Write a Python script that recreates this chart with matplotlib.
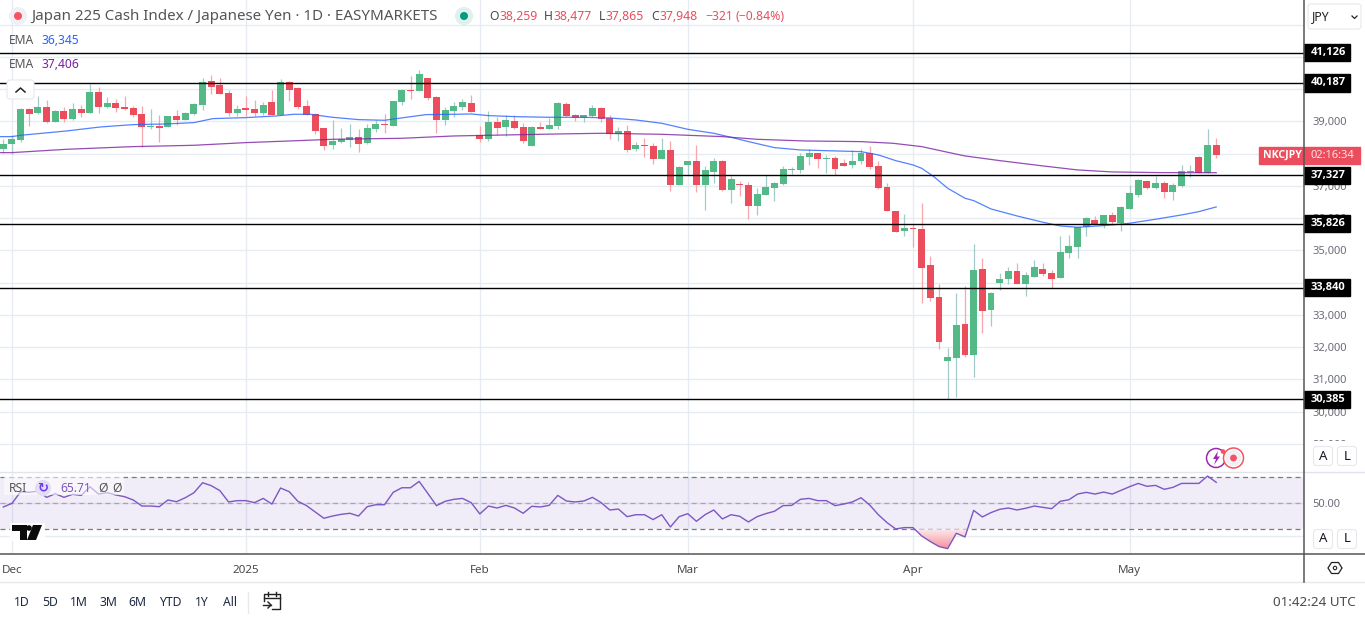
import numpy as np
import matplotlib
matplotlib.use('Agg')
import matplotlib.pyplot as plt
from matplotlib.patches import Rectangle, Circle, FancyBboxPatch, Polygon

plt.rcParams['font.family'] = ['Noto Sans', 'DejaVu Sans']

opens = [38143,38298,38421,39382,39258,39444,38979,39320,39072,39382,39258,39909,39444,39568,39444,39413,39227,38824,38855,38824,
         39165,39041,39227,39506,40250,40126,39878,39258,39413,39382,39258,39599,39196,40219,40033,39475,39227,38793,38267,38360,
         38421,38514,38329,38762,38917,38855,39599,39971,39940,40343,39754,39041,39320,39444,39568,38576,38453,38979,38824,39010,
         38824,38236,38824,38762,38855,39537,39196,39103,39165,39413,39103,38607,38700,38143,38267,38236,37833,38112,37027,37647,
         37771,37027,37430,37771,36872,37058,37027,36376,36717,36934,37058,37492,37492,37895,38019,37833,37864,37709,37647,37771,
         38019,37616,36965,36221,35601,35684,35663,34548,33556,31572,31666,32719,31759,34424,33153,33990,34114,34362,33959,34176,
         34424,34300,34145,34920,35106,35725,35942,35818,36097,35849,36283,36717,37151,36934,37089,36810,36996,37430,37895,37389,
         38259]
highs = [38442,38576,39403,39403,39785,39661,39351,39434,39558,39496,40157,40054,39744,39692,39785,39475,39475,39382,39196,39165,
         39351,39289,39558,40333,40436,40343,39971,39506,39785,39661,39599,39971,40312,40250,40054,39661,39248,38793,39041,38793,
         38917,38762,38917,39041,39227,39630,39992,40405,40591,40343,39785,39454,39599,39692,39816,38855,39320,39134,39196,39196,
         38948,38855,38979,39103,39599,39599,39227,39196,39506,39444,39196,38824,38886,38360,38484,38329,38484,38391,37616,37771,
         38267,37616,37864,37802,37306,37151,37120,36934,37337,37120,37616,37585,38019,38143,38019,37957,37926,37833,38112,38143,
         38236,37760,37089,36221,36128,35818,36469,34827,33959,31976,33680,33897,35199,34765,33711,34300,34486,34610,34331,34703,
         34610,34393,35446,35477,35725,36035,36066,36097,36190,36376,37027,37213,37151,37306,37151,37089,37647,37647,37926,38762,
         38477]
lows = [38008,37977,38370,38855,39227,38959,38979,38979,39041,39145,39258,39258,39413,39289,39351,39145,38205,38762,38360,38824,
        38886,39041,39196,39351,39847,39847,39165,39165,39165,39165,39196,39196,39196,39630,39382,39196,38607,38112,38143,38339,
        38205,38050,38298,38669,38638,38855,39506,39692,39940,39661,38638,38886,39145,39351,39289,38360,38391,38576,38545,38762,
        38329,38236,38762,38762,38762,39165,39010,38979,39134,38979,38453,38391,38050,38081,37895,37678,37833,36841,37027,37337,
        36810,36252,37089,36841,36469,36686,35973,36097,36717,36531,37027,37368,37399,37647,37554,37399,37337,37616,37554,37678,
        37523,36903,36232,35570,35446,35106,33370,33432,31945,30385,30457,31696,31077,32441,32657,33773,33959,33959,33587,34176,
        34207,33835,34145,34765,34765,35446,35818,35694,35787,35601,36283,36655,36903,36903,36624,36562,36965,37275,37389,37389,
        37865]
closes = [38298,38442,39382,39227,39444,38979,39320,39072,39382,39258,39909,39444,39568,39413,39382,39196,38824,38855,38793,39165,
          39041,39258,39537,40219,40064,39847,39258,39382,39351,39258,39506,39196,40219,39971,39444,39196,38700,38236,38391,38442,
          38514,38298,38793,38917,38897,39630,39971,39950,40467,39723,39041,39351,39475,39599,39289,38453,38979,38793,39041,38793,
          38391,38824,38762,38886,39568,39165,39103,39196,39413,39072,38607,38700,38112,38267,38236,37833,38112,37027,37585,37771,
          37027,37492,37771,36872,37213,37027,36376,36748,36965,37089,37523,37523,37926,38019,37833,37864,37523,37616,37771,38019,
          37585,36934,36232,35570,35694,35663,34455,33525,32161,31696,32688,31759,34393,33122,33680,34114,34362,33959,34238,34486,
          34269,34114,34950,35137,35725,36004,35818,36097,35880,36345,36779,37182,36934,37089,36810,37027,37461,37461,37389,38267,
          37948]

ema_fast_bars = [-1,1,2,7.3,11.2,15,18.8,22,24.2,28,31.5,33.5,35.4,38,41,44,46.5,48.8,52,54,56,59,63,67,70,73,76,79,82,84,86,89,92,96,99,
                 101,103,105,106,107.4,109,111,112,114,117,120,122,124,127,130,133,136,138,140]
ema_fast = [38525,38525,38566,38700,38824,38897,38917,38959,39083,39114,39165,39217,39217,39124,39052,39031,39124,39207,39217,39227,39176,
            39145,39124,39124,39103,39041,38938,38752,38628,38504,38370,38184,38112,38081,38060,37957,37781,37647,37543,37285,36924,36614,
            36541,36283,36066,35870,35756,35715,35766,35839,35963,36097,36200,36345]
ema_slow_bars = [-1,1,7.3,15,22,28,34,38,46,52,56,64,69,76,83,87,92.5,99,102.7,106,109,111,115,120,124,128,133.5,140]
ema_slow = [38029,38029,38132,38215,38256,38339,38400,38442,38473,38545,38566,38607,38628,38597,38525,38442,38390,38370,38318,38215,
            38040,37926,37781,37616,37492,37430,37409,37406]

rsi = [47.0,49.7,58.6,58.1,59.1,54.3,57.1,54.3,56.6,55.8,62.4,56.8,57.8,56.1,54.8,52.3,47.7,47.7,47.2,52.3,
       51.0,54.0,57.8,65.4,63.2,59.4,50.8,51.8,51.8,50.3,53.5,49.2,61.4,58.6,51.3,48.0,43.2,38.4,40.1,41.4,
       42.2,40.1,47.2,48.7,48.7,58.1,61.6,61.6,66.4,57.3,48.0,51.3,52.8,53.5,50.3,41.7,47.7,46.2,48.2,46.2,
       42.2,47.5,47.0,48.2,55.8,51.5,50.8,51.5,54.3,50.3,44.7,45.4,39.6,41.1,41.1,37.4,41.1,31.8,39.6,41.9,
       36.1,41.1,44.7,37.9,41.1,39.9,35.6,39.6,41.9,43.7,48.0,48.2,52.8,53.5,51.8,51.8,48.0,49.2,50.8,54.0,
       48.5,41.1,35.1,30.3,31.3,31.3,25.0,20.7,16.9,15.3,27.0,24.2,44.4,39.4,42.7,45.2,46.2,44.7,46.0,47.7,
       46.7,45.7,51.3,52.5,56.8,58.1,56.8,58.3,56.8,59.6,62.4,64.9,62.7,63.4,60.4,61.9,64.9,64.9,64.9,70.5,
       65.71]

levels = [41126, 40187, 37327, 35826, 33840, 30385]
price_ticks = list(range(29000, 43000, 1000))
covered_ticks = [38000, 40000, 41000, 42000]  # fully behind the tags in the reference
month_bars = [1, 28, 55, 79, 105, 130]
month_labels = ['Dec', '2025', 'Feb', 'Mar', 'Apr', 'May']
ranges = [('1D', 22), ('5D', 50), ('1M', 79), ('3M', 108), ('6M', 137), ('YTD', 170), ('1Y', 202), ('All', 230)]

GREEN = '#53b987'
RED = '#eb4d5c'
GRID = '#e6ecf2'
DARK = '#555555'
TXT = '#4a4a4a'
BOLD = ['Open Sans', 'DejaVu Sans']

W, H = 1365, 621
fig = plt.figure(figsize=(W / 100, H / 100), dpi=100, facecolor='white')


def pane(top, bottom):
    return fig.add_axes([0, (H - bottom) / H, 1304 / W, (bottom - top) / H])


ax = pane(0, 472)
ax2 = pane(472, 554)
xlim = (-0.381, 150.13)

# candles
x = np.arange(len(opens))
o, h, l, c = map(np.array, (opens, highs, lows, closes))
up = c >= o
ax.vlines(x[up], l[up], h[up], color='#a3c9c9', lw=0.9, zorder=3)
ax.vlines(x[~up], l[~up], h[~up], color='#f7a6ae', lw=0.9, zorder=3)
ax.bar(x[up], (c - o)[up], bottom=o[up], width=0.8, color=GREEN, zorder=4)
ax.bar(x[~up], (o - c)[~up], bottom=c[~up], width=0.8, color=RED, zorder=4)
ax.plot(ema_fast_bars, ema_fast, color='#2962ff', lw=0.9, alpha=0.8, zorder=5)
ax.plot(ema_slow_bars, ema_slow, color='#7b1fa2', lw=0.9, alpha=0.8, zorder=5)

for lv in levels:
    ax.axhline(lv, color='black', lw=1.0, zorder=6)

ax.set_xlim(xlim)
ax.set_ylim(28128, 42760)
ax.yaxis.tick_right()
ax.set_yticks(price_ticks)
ax.set_yticklabels(['' if p in covered_ticks else f'{p:,}' for p in price_ticks], fontsize=8, color='#6a6d78')
ax.tick_params(axis='y', length=0, pad=6)
ax.set_xticks(month_bars)
ax.tick_params(axis='x', length=0, labelbottom=False)
ax.grid(True, color=GRID, lw=1)
ax.set_axisbelow(True)
for s in ax.spines.values():
    s.set_visible(False)

# level tags on the price scale
yt = ax.get_yaxis_transform()
for lv in levels:
    ax.add_patch(Rectangle((1.0, lv - 265), 46 / 1304, 530, transform=yt, color='black', clip_on=False, zorder=10))
    ax.text(1.0 + 24 / 1304, lv, f'{lv:,}', transform=yt, color='white', fontsize=8, fontweight='bold', family=BOLD,
            ha='center', va='center', clip_on=False, zorder=11)

# last price tag
ax.add_patch(Rectangle((1.0 - 45 / 1304, closes[-1] - 265), 101 / 1304, 530, transform=yt, color=RED,
                       clip_on=False, zorder=10))
ax.text(1.0 - 22 / 1304, closes[-1], 'NKCJPY', transform=yt, color='white', fontsize=7.6, fontweight='bold', family=BOLD,
        ha='center', va='center', clip_on=False, zorder=11)
ax.text(1.0 + 28 / 1304, closes[-1], '02:16:34', transform=yt, color='#fde3e5', fontsize=8,
        ha='center', va='center', clip_on=False, zorder=11)

# RSI pane
ax2.axhspan(30, 70, color='#7e57c2', alpha=0.11, lw=0, zorder=1)
for lv, col in ((70, '#787b86'), (50, '#a5a7b0'), (30, '#787b86')):
    ax2.axhline(lv, color=col, lw=0.9, dashes=(4, 3), zorder=2)
rsi_arr = np.array(rsi)
fill = ax2.fill_between(x, rsi_arr, 30, where=rsi_arr < 30, interpolate=True, color='none', zorder=3)
grad = ax2.imshow(np.linspace(0, 1, 64).reshape(-1, 1), extent=(x[0], x[-1], 15, 30), aspect='auto',
                  cmap=matplotlib.colors.LinearSegmentedColormap.from_list('os', ['#fbeaec', '#f88f98']),
                  origin='upper', zorder=3)
grad.set_clip_path(fill.get_paths()[0], ax2.transData)
ax2.plot(x, rsi, color='#7e57c2', lw=1.0, zorder=4)
ax2.set_xlim(xlim)
ax2.set_ylim(11.24, 73.57)
ax2.yaxis.tick_right()
ax2.set_yticks([25, 50])
ax2.set_yticklabels(['', '50.00'], fontsize=8, color='#6a6d78')
ax2.tick_params(axis='y', length=0, pad=6)
ax2.set_xticks(month_bars)
ax2.set_xticklabels(month_labels, fontsize=8.4, color=TXT)
ax2.get_xticklabels()[1].set_fontweight('bold')
ax2.tick_params(axis='x', length=0, pad=8)
ax2.grid(True, color=GRID, lw=1)
ax2.set_axisbelow(True)
for s in ax2.spines.values():
    s.set_visible(False)

# overlay in pixel coords for the app chrome
ui = fig.add_axes([0, 0, 1, 1], zorder=20)
ui.set_xlim(0, W)
ui.set_ylim(H, 0)
ui.axis('off')
ui.patch.set_alpha(0)


def label(px, py, s, color=TXT, size=8, **kw):
    kw.setdefault('va', 'center')
    ui.text(px, py + 1, s, color=color, fontsize=size, **kw)


def button(cx, cy, w, ht, r=3):
    ui.add_patch(FancyBboxPatch((cx - w / 2 + r, cy - ht / 2 + r), w - 2 * r, ht - 2 * r,
                                boxstyle=f'round,pad={r}', fc='white', ec='#e6e8ee', lw=0.8))


ui.plot([0, W], [582, 582], color='#e6e8ee', lw=1)
ui.plot([0, W], [472, 472], color='#e0e3eb', lw=1)
ui.plot([0, W], [554, 554], color=DARK, lw=1.1)
ui.plot([1304, 1304], [0, 582], color=DARK, lw=1.1)
ui.add_patch(Rectangle((1305, 441), 60, 30, fc='white', ec='none'))

# title row
ui.add_patch(Circle((18, 16), 9, fc='#eef0f6', ec='none'))
ui.add_patch(Circle((18, 16), 4, fc='#f7525f', ec='none'))
label(31, 15, 'Japan 225 Cash Index / Japanese Yen · 1D · EASYMARKETS', size=10.9, color='#555555')
ui.add_patch(Circle((464, 16), 9, fc='#dcf2ec', ec='none'))
ui.add_patch(Circle((464, 16), 4, fc='#089981', ec='none'))
for px, s, col in [(489, 'O', TXT), (499, '38,259', RED), (544, 'H', TXT), (554, '38,477', RED),
                   (599, 'L', TXT), (606, '37,865', RED), (651, 'C', TXT), (660, '37,948', RED),
                   (705, '−321', RED), (736, '(−0.84%)', RED)]:
    label(px, 15.5, s, color=col, size=8.8)

# EMA legends
label(9, 40, 'EMA', size=8.7, color='#555555')
label(41, 40, '36,345', size=8.7, color='#2962ff')
label(9, 63.5, 'EMA', size=8.7, color='#555555')
label(41, 63.5, '37,406', size=8.7, color='#7b1fa2')
button(20.5, 89.5, 27, 19)
ui.plot([16, 20.5, 25], [92, 88, 92], color='#222222', lw=1.1)

# currency box
button(1334.5, 16.5, 53, 25)
label(1312, 15.5, 'JPY', size=8.8, color='#222222')
ui.plot([1352, 1354.5, 1357], [16, 18.5, 16], color='#222222', lw=0.9)

# auto / log buttons
for cy in (456, 539):
    button(1323, cy, 19, 19)
    button(1347, cy, 19, 19)
    label(1323, cy - 1, 'A', color='#131722', size=9.5, ha='center')
    label(1347, cy - 1, 'L', color='#131722', size=9.5, ha='center')

# RSI legend
ui.add_patch(Rectangle((4, 476), 120, 19, fc='white', ec='none', alpha=0.55))
label(9, 487.5, 'RSI', size=8.7, color='#555555')
ui.add_patch(Circle((43, 488), 8, fc='#e3dcf6', ec='none'))
label(43, 486.5, '↻', size=9.5, color='#6a3de8', ha='center', fontweight='bold')
label(60, 487.5, '65.71', size=8.7, color='#7e57c2')
label(103, 487.5, 'Ø', size=8.7, color='#555555', ha='center')
label(117, 487.5, 'Ø', size=8.7, color='#555555', ha='center')

# logo
ui.add_patch(Rectangle((10, 523), 35, 18, fc='white', ec='none', alpha=0.9))
ui.add_patch(Polygon([(12, 525), (27, 525), (27, 540), (20, 540), (20, 531), (12, 531)], fc='#0b0b0b', ec='none'))
ui.add_patch(Circle((29, 528), 2.8, fc='#0b0b0b', ec='none'))
ui.add_patch(Polygon([(33, 525), (42, 525), (36, 540), (27, 540)], fc='#0b0b0b', ec='none'))

# alert icons
ui.add_patch(Circle((1216, 458), 9.5, fc='white', ec='#9c27b0', lw=1.1))
ui.add_patch(Polygon([(1218, 451), (1213, 459), (1216, 459), (1214, 465), (1220, 456.5), (1217, 456.5)], fc='#9c27b0', ec='none'))
ui.add_patch(Circle((1233.5, 458), 10, fc='white', ec='#f7525f', lw=1.1))
ui.add_patch(Circle((1233.5, 458), 8, fc='#eef0f6', ec='none'))
ui.add_patch(Circle((1233.5, 458), 3.4, fc='#f7525f', ec='none'))
ui.add_patch(Circle((1223, 451.5), 2.3, fc='#f7525f', ec='none'))

# settings hexagon
ui.add_patch(Polygon([(1328, 568), (1331.5, 562.5), (1338.5, 562.5), (1342, 568), (1338.5, 573.5), (1331.5, 573.5)],
                     fc='white', ec='#222222', lw=0.9))
ui.add_patch(Circle((1335, 568), 1.7, fc='white', ec='#222222', lw=0.8))

# bottom bar
for s, px in ranges:
    label(px, 601, s, color='#1e2a44', size=8.8, ha='center')
ui.plot([248, 248], [592, 613], color='#e6e8ee', lw=1)
ui.plot([264, 264, 280, 280, 272], [601, 594, 594, 609, 609], color='#222222', lw=1)
ui.plot([264, 280], [598, 598], color='#222222', lw=1)
ui.plot([268, 268], [592, 596], color='#222222', lw=1)
ui.plot([276, 276], [592, 596], color='#222222', lw=1)
ui.plot([263, 271], [605, 605], color='#222222', lw=1)
ui.plot([268, 271, 268], [602, 605, 608], color='#222222', lw=1)
label(1356, 601, '01:42:24 UTC', color='#4a4a4a', size=9.7, ha='right')

fig.savefig('out.png', dpi=100, facecolor='white')
